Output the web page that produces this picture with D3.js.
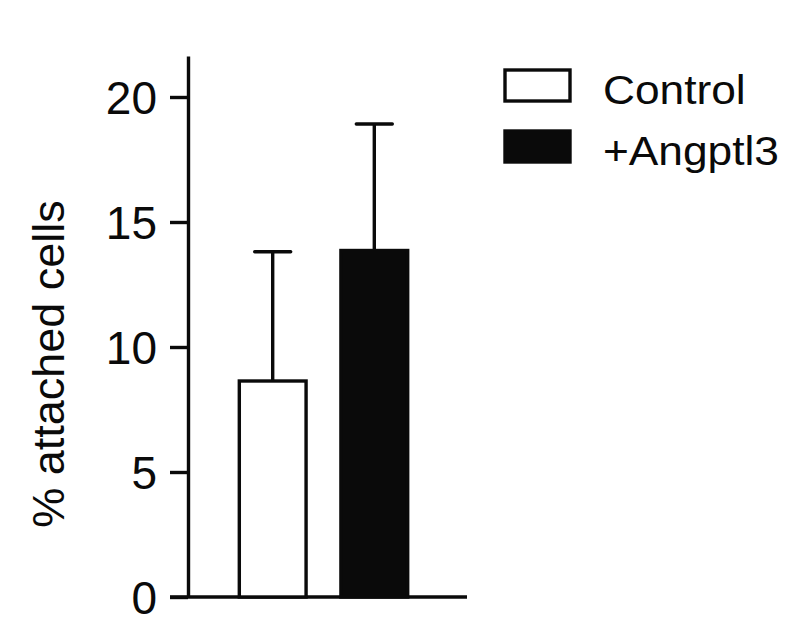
<!DOCTYPE html>
<html>
<head>
<meta charset="utf-8">
<script src="https://cdn.jsdelivr.net/npm/d3@7"></script>
<style>
  body { margin: 0; background: #fff; }
  text { font-family: "Liberation Sans", Arial, sans-serif; fill: #0a0a0a; }
</style>
</head>
<body>
<div id="chart"></div>
<script>
var chartWidth = 792;
var chartHeight = 636;

var groups = ['Control', '+Angptl3'];
var means = [8.64, 13.86];
var sems = [5.17, 5.06];
var barColors = ['#ffffff', '#0a0a0a'];
var yTicks = [0, 5, 10, 15, 20];

var ink = '#0a0a0a';
var lineW = 3.4;

var svg = d3.select('#chart')
    .append('svg')
    .attr('width', chartWidth)
    .attr('height', chartHeight);

// Scales
var scaleY = d3.scaleLinear()
    .domain([0, 21.64])
    .range([597, 56]);

var scaleX = d3.scaleBand()
    .domain(groups)
    .range([188, 459])
    .paddingInner(0.343)
    .paddingOuter(0.505);

// Y axis
var yAxis = d3.axisLeft(scaleY)
    .tickValues(yTicks)
    .tickSize(18)
    .tickPadding(13)
    .tickSizeOuter(0);

var gy = svg.append('g')
    .attr('transform', 'translate(188,0)')
    .call(yAxis);
gy.select('.domain').attr('stroke', ink).attr('stroke-width', lineW);
gy.selectAll('.tick line').attr('stroke', ink).attr('stroke-width', lineW);
gy.selectAll('.tick text')
    .style('font-size', '46px')
    .attr('dy', '0.35em')
    .attr('fill', ink);

// x baseline (runs out to the left like a tick)
svg.append('line')
    .attr('x1', 170)
    .attr('x2', 467)
    .attr('y1', scaleY(0))
    .attr('y2', scaleY(0))
    .attr('stroke', ink)
    .attr('stroke-width', lineW);

// Error bars
var capHalf = 18;
var errs = svg.append('g');
groups.forEach(function(g, i) {
  var cx = scaleX(g) + scaleX.bandwidth() / 2;
  errs.append('line')
      .attr('x1', cx).attr('x2', cx)
      .attr('y1', scaleY(means[i]))
      .attr('y2', scaleY(means[i] + sems[i]))
      .attr('stroke', ink)
      .attr('stroke-width', lineW);
  errs.append('line')
      .attr('x1', cx - capHalf).attr('x2', cx + capHalf)
      .attr('y1', scaleY(means[i] + sems[i]))
      .attr('y2', scaleY(means[i] + sems[i]))
      .attr('stroke', ink)
      .attr('stroke-width', lineW)
      .attr('stroke-linecap', 'round');
});

// Bars
svg.selectAll('rect.bar')
    .data(groups)
    .enter()
    .append('rect')
    .attr('class', 'bar')
    .attr('x', function(d) { return scaleX(d); })
    .attr('y', function(d, i) { return scaleY(means[i]); })
    .attr('width', scaleX.bandwidth())
    .attr('height', function(d, i) { return scaleY(0) - scaleY(means[i]); })
    .attr('fill', function(d, i) { return barColors[i]; })
    .attr('stroke', ink)
    .attr('stroke-width', lineW);

// Y label
svg.append('text')
    .attr('transform', 'translate(64,364) rotate(-90)')
    .attr('text-anchor', 'middle')
    .style('font-size', '45px')
    .text('% attached cells');

// Legend
var legend = svg.append('g');
groups.forEach(function(g, i) {
  var top = 70 + i * 61;
  legend.append('rect')
      .attr('x', 505)
      .attr('y', top)
      .attr('width', 65)
      .attr('height', 31)
      .attr('fill', barColors[i])
      .attr('stroke', ink)
      .attr('stroke-width', lineW);
  legend.append('text')
      .attr('transform', 'translate(603,' + (top + 34) + ') scale(1.08,1)')
      .style('font-size', '41px')
      .text(g);
});
</script>
</body>
</html>
